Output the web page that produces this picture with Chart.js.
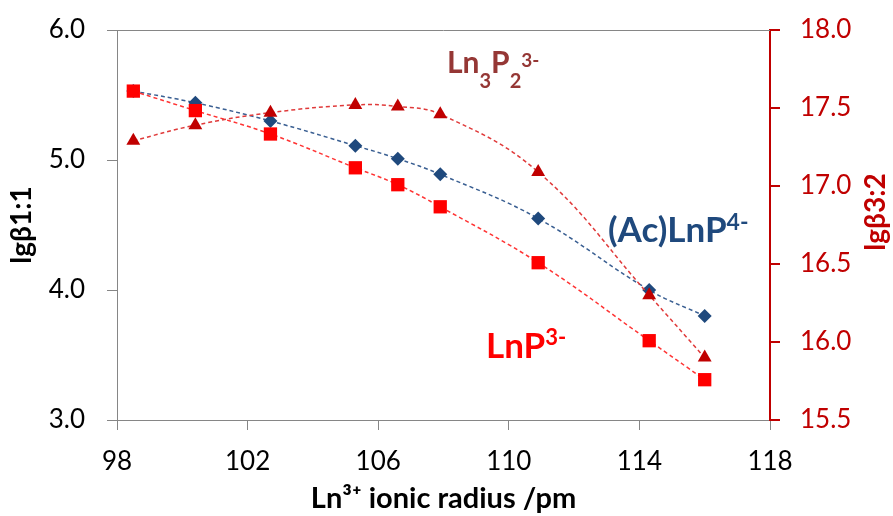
<!DOCTYPE html>
<html>
<head>
<meta charset="utf-8">
<script src="https://cdn.jsdelivr.net/npm/chart.js@4.4.0/dist/chart.umd.min.js"></script>
<style>
  html, body { margin: 0; padding: 0; background: #fff; }
  #wrap { width: 893px; height: 516px; }
</style>
</head>
<body>
<div id="wrap"><canvas id="chart"></canvas></div>
<script>
// data (Ln3+ ionic radius, pm)
const radius = [98.5, 100.4, 102.7, 105.3, 106.6, 107.9, 110.9, 114.3, 116.0]
const acLnP = [5.53, 5.44, 5.30, 5.11, 5.01, 4.89, 4.55, 4.00, 3.80]
const lnP = [5.53, 5.38, 5.20, 4.94, 4.81, 4.64, 4.21, 3.61, 3.31]
const ln3P2 = [17.29, 17.39, 17.47, 17.52, 17.51, 17.46, 17.09, 16.30, 15.90]

const xTicks = [98, 102, 106, 110, 114, 118]
const yTicks = [3.0, 4.0, 5.0, 6.0]
const y2Ticks = [15.5, 16.0, 16.5, 17.0, 17.5, 18.0]

const font = 'Lato'
const axisGray = '#868686'
const darkRed = '#C00000'

function pts(xs, ys) {
    return xs.map((x, i) => ({ x: x, y: ys[i] }))
}

// fixed box sizes so the plot area lands where the original has it
function fixBox(w, h) {
    return function (s) {
        if (w) s.width = w
        if (h) s.height = h
        s.paddingTop = 0
        s.paddingBottom = 0
        s.paddingLeft = 0
        s.paddingRight = 0
    }
}

// rich text labels in plot
function drawRich(ctx, x, y, parts, color) {
    ctx.save()
    ctx.fillStyle = color
    ctx.textBaseline = 'alphabetic'
    ctx.textAlign = 'left'
    parts.forEach(p => {
        ctx.font = 'bold ' + p[1] + 'px ' + font
        ctx.fillText(p[0], x, y + p[2])
        x += ctx.measureText(p[0]).width
    })
    ctx.restore()
}

const extras = {
    id: 'extras',
    beforeDatasetsDraw(chart) {
        const ctx = chart.ctx
        const a = chart.chartArea
        ctx.save()
        ctx.strokeStyle = axisGray
        ctx.lineWidth = 1
        ctx.beginPath()
        ctx.moveTo(a.left, a.top + 0.5)
        ctx.lineTo(a.right, a.top + 0.5)
        ctx.stroke()
        ctx.restore()
    },
    afterDatasetsDraw(chart) {
        const ctx = chart.ctx
        drawRich(ctx, 447, 73, [['Ln', 30, 0], ['3', 20, 15], ['P', 30, 0], ['2', 20, 15], ['3-', 19, -6]], '#953735')
        drawRich(ctx, 608, 242, [['(Ac)LnP', 35, 0], ['4-', 23, -12]], '#1F497D')
        drawRich(ctx, 486, 358, [['LnP', 35, 0], ['3-', 22, -13]], '#FF0000')
        // right axis title, reading upward like the left one
        ctx.save()
        ctx.translate(876, 212)
        ctx.rotate(-Math.PI / 2)
        ctx.fillStyle = darkRed
        ctx.font = 'bold 28px ' + font
        ctx.textAlign = 'center'
        ctx.textBaseline = 'middle'
        ctx.fillText('lgβ3:2', 0, 0)
        ctx.restore()
    }
}

function lineSet(label, data, color, lineColor, style, r, axis) {
    return {
        label: label,
        data: data,
        yAxisID: axis,
        borderColor: lineColor,
        borderWidth: 1.5,
        borderDash: [4, 3],
        backgroundColor: color,
        pointBackgroundColor: color,
        pointBorderColor: color,
        pointBorderWidth: 0,
        pointStyle: style,
        pointRadius: r,
        pointHoverRadius: r,
        tension: 0.4,
        fill: false
    }
}

const ctx = document.getElementById('chart').getContext('2d')
new Chart(ctx, {
    type: 'line',
    data: {
        datasets: [
            lineSet('Ln3P2 3-', pts(radius, ln3P2), darkRed, '#E03A3A', 'triangle', 8, 'y2'),
            lineSet('LnP 3-', pts(radius, lnP), '#FF0000', '#FF3333', 'rect', 9.4, 'y'),
            lineSet('(Ac)LnP 4-', pts(radius, acLnP), '#1F497D', '#3A5F92', 'rectRot', 7, 'y')
        ]
    },
    options: {
        responsive: true,
        maintainAspectRatio: false,
        animation: false,
        layout: { autoPadding: false, padding: { top: 30, left: 0, right: 0, bottom: 0 } },
        plugins: {
            legend: { display: false },
            tooltip: { enabled: false }
        },
        scales: {
            x: {
                type: 'linear',
                min: 98,
                max: 118,
                afterFit: fixBox(0, 96),
                afterBuildTicks: s => { s.ticks = xTicks.map(v => ({ value: v })) },
                grid: { drawOnChartArea: false, color: axisGray, tickLength: 10 },
                border: { color: axisGray, width: 1 },
                ticks: { color: '#000', font: { family: font, size: 26 }, padding: 16, maxRotation: 0 },
                title: {
                    display: true,
                    text: 'Ln³⁺ ionic radius /pm',
                    color: '#000',
                    font: { family: font, size: 29, weight: 'bold' },
                    padding: { top: 0, bottom: 0 }
                }
            },
            y: {
                position: 'left',
                min: 3,
                max: 6,
                afterFit: fixBox(117, 0),
                afterBuildTicks: s => { s.ticks = yTicks.map(v => ({ value: v })) },
                grid: { drawOnChartArea: false, color: axisGray, tickLength: 10 },
                border: { color: axisGray, width: 1 },
                ticks: {
                    color: '#000',
                    font: { family: font, size: 26 },
                    padding: 22,
                    callback: v => v.toFixed(1)
                },
                title: {
                    display: true,
                    text: 'lgβ1:1',
                    color: '#000',
                    font: { family: font, size: 28, weight: 'bold' },
                    padding: { top: 5, bottom: 0 }
                }
            },
            y2: {
                position: 'right',
                min: 15.5,
                max: 18,
                afterFit: fixBox(123, 0),
                afterBuildTicks: s => { s.ticks = y2Ticks.map(v => ({ value: v })) },
                grid: { drawOnChartArea: false, color: darkRed, tickLength: 10, lineWidth: 2 },
                border: { color: darkRed, width: 2 },
                ticks: {
                    color: darkRed,
                    font: { family: font, size: 26 },
                    padding: 20,
                    callback: v => v.toFixed(1)
                },
                title: { display: false }
            }
        }
    },
    plugins: [extras]
})
</script>
</body>
</html>
